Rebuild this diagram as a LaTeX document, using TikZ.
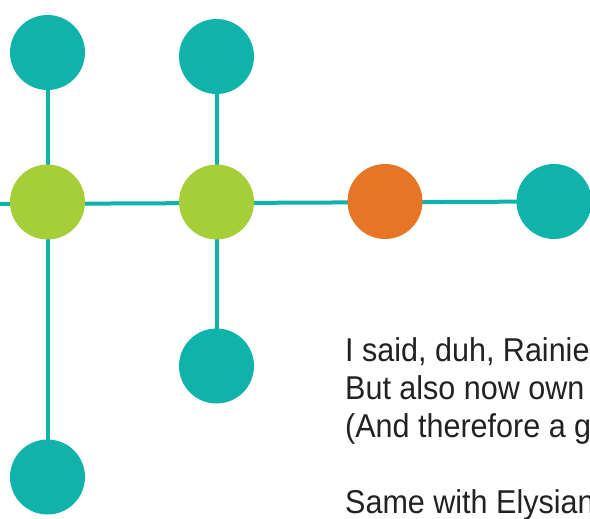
\documentclass[tikz,border=0pt]{standalone}
\usepackage{fontspec}
\setmainfont{Liberation Sans}[FakeStretch=0.925]
\definecolor{teal1}{HTML}{0FB3A9}
\definecolor{lime1}{HTML}{A6CE39}
\definecolor{orange1}{HTML}{E67525}
\definecolor{ink}{HTML}{222222}
\begin{document}
\begin{tikzpicture}[x=1pt,y=-1pt,
  dot/.style={circle,minimum size=75pt,inner sep=0pt,fill=#1},
  link/.style={draw=teal1,line width=4pt}]
\useasboundingbox (0,0) rectangle (590,519);
\clip (0,0) rectangle (590,519);
\coordinate (w) at (0,204);
\coordinate (t1) at (47.5,52.5);
\coordinate (t2) at (216.5,56.5);
\coordinate (g1) at (47.5,202);
\coordinate (g2) at (216.5,202);
\coordinate (o) at (385,201.5);
\coordinate (r) at (554,201.5);
\coordinate (m) at (216.5,366);
\coordinate (b) at (47.5,477);
\path[link] (w) -- (r);
\path[link] (g1) -- (t1);
\path[link] (g1) -- (b);
\path[link] (g2) -- (t2);
\path[link] (g2) -- (m);
\node[dot=teal1] (nt1) at (t1) {};
\node[dot=teal1] (nt2) at (t2) {};
\node[dot=lime1] (ng1) at (g1) {};
\node[dot=lime1] (ng2) at (g2) {};
\node[dot=orange1] (no) at (o) {};
\node[dot=teal1] (nr) at (r) {};
\node[dot=teal1] (nm) at (m) {};
\node[dot=teal1] (nb) at (b) {};
\node[anchor=base west,inner sep=0pt,text=ink,font=\fontsize{33}{38}\selectfont,align=left] (txt) at (345,513)
  {I said, duh, Rainier\\But also now own\\(And therefore a g\\[38pt]Same with Elysian};
\end{tikzpicture}
\end{document}
